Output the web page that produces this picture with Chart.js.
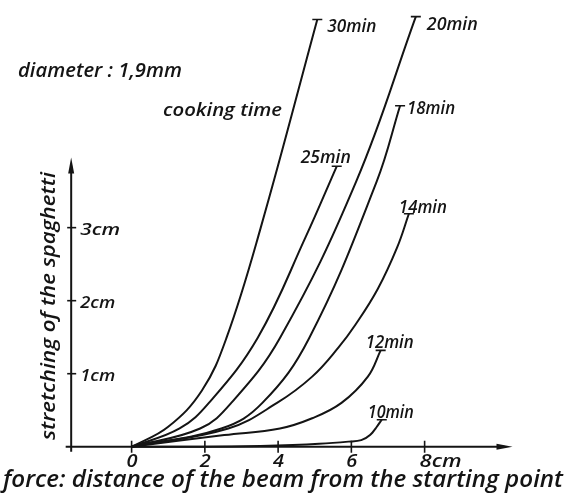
<!DOCTYPE html>
<html>
<head>
<meta charset="utf-8">
<script src="https://cdn.jsdelivr.net/npm/chart.js@4.4.0/dist/chart.umd.min.js"></script>
<style>
  html, body { margin: 0; padding: 0; background: #fff; }
  #wrap { width: 566px; height: 503px; }
</style>
</head>
<body>
<div id="wrap"><canvas id="chart"></canvas></div>
<script>
// stretching of the spaghetti vs. distance of the beam, one curve per cooking time
// values in cm

const cookingTimes = ['30min', '25min', '20min', '18min', '14min', '12min', '10min'];

const dist30 = [0, 0.99, 1.92, 2.59, 3.52, 5.07];
const stretch30 = [0, 0.27, 0.77, 1.49, 2.99, 5.85];

const dist25 = [0, 1.31, 2.11, 3.44, 4.75, 5.60];
const stretch25 = [0, 0.25, 0.60, 1.49, 2.87, 3.84];

const dist20 = [0, 1.87, 2.72, 4.05, 6.13, 7.76];
const stretch20 = [0, 0.25, 0.60, 1.49, 3.63, 5.89];

const dist18 = [0, 2.45, 3.57, 4.85, 6.69, 7.33];
const stretch18 = [0, 0.25, 0.60, 1.49, 3.63, 4.67];

const dist14 = [0, 2.64, 3.97, 4.93, 5.65, 6.11, 6.72, 7.25, 7.57];
const stretch14 = [0, 0.25, 0.60, 0.96, 1.36, 1.67, 2.16, 2.73, 3.19];

const dist12 = [0, 2.53, 4.05, 4.93, 5.73, 6.45, 6.80];
const stretch12 = [0, 0.16, 0.25, 0.39, 0.60, 0.96, 1.32];

const dist10 = [0, 1.92, 3.52, 5.12, 5.92, 6.27, 6.51, 6.69, 6.83];
const stretch10 = [0, 0, 0.01, 0.04, 0.07, 0.09, 0.16, 0.27, 0.37];

const xTicks = [0, 2, 4, 6, 8];
const xTickLabels = ['0', '2', '4', '6', '8cm'];
const yTicks = [1, 2, 3];
const yTickLabels = ['1cm', '2cm', '3cm'];

const diameterNote = 'diameter : 1,9mm';
const legendNote = 'cooking time';
const xTitle = 'force: distance of the beam from the starting point';
const yTitle = 'stretching of the spaghetti';

// --- layout / style (not data) ---
const INK = '#141414';
const FONT = '"Open Sans", "DejaVu Sans", sans-serif';
const axisLine = { yAxisAt: -1.65, yFrom: -0.07, yTo: 3.96, xFrom: -1.8, xTo: 10.4 };
// label offset from curve end: dx, dy (px), box width
const labelPos = {
    '30min': [10, 12, 49],
    '25min': [-36, -3, 50],
    '20min': [11, 13, 51],
    '18min': [7, 8, 48],
    '14min': [-10, -1, 48],
    '12min': [-15, -2, 48],
    '10min': [-14, -2, 46]
};

const series = [
    [dist30, stretch30], [dist25, stretch25], [dist20, stretch20], [dist18, stretch18],
    [dist14, stretch14], [dist12, stretch12], [dist10, stretch10]
];

const datasets = series.map(([xs, ys], i) => ({
    label: cookingTimes[i],
    data: xs.map((x, j) => ({ x: x, y: ys[j] })),
    borderColor: INK,
    borderWidth: 2,
    // the nearly flat 10min curve needs monotone so it doesn't dip below the axis
    cubicInterpolationMode: cookingTimes[i] === '10min' ? 'monotone' : 'default',
    tension: 0.4,
    fill: false,
    pointStyle: 'line',
    pointBorderColor: INK,
    pointBorderWidth: 1.6,
    pointRadius: ctx => ctx.dataIndex === xs.length - 1 ? 5 : 0,
    pointHoverRadius: 0
}));

// text squeezed/stretched to a given width
function fitText(ctx, text, x, y, w, size, rot) {
    ctx.save();
    ctx.font = 'italic 600 ' + size + 'px ' + FONT;
    const m = ctx.measureText(text).width;
    ctx.translate(x, y);
    if (rot) ctx.rotate(rot);
    ctx.scale(w / m, 1);
    ctx.textAlign = 'left';
    ctx.textBaseline = 'alphabetic';
    ctx.fillStyle = INK;
    ctx.fillText(text, 0, 0);
    ctx.restore();
}

const sketchAxes = {
    id: 'sketchAxes',
    beforeDatasetsDraw(chart) {
        const ctx = chart.ctx;
        const sx = chart.scales.x, sy = chart.scales.y;
        const ax = sx.getPixelForValue(axisLine.yAxisAt);
        const ay = sy.getPixelForValue(0);
        ctx.save();
        ctx.strokeStyle = INK;
        ctx.fillStyle = INK;
        ctx.lineWidth = 2;

        // y axis with arrow
        const yTop = sy.getPixelForValue(axisLine.yTo);
        ctx.beginPath();
        ctx.moveTo(ax, sy.getPixelForValue(axisLine.yFrom));
        ctx.lineTo(ax, yTop + 8);
        ctx.stroke();
        ctx.beginPath();
        ctx.moveTo(ax, yTop);
        ctx.lineTo(ax - 3, yTop + 16);
        ctx.lineTo(ax + 3, yTop + 16);
        ctx.closePath();
        ctx.fill();

        // x axis with arrow
        const xEnd = sx.getPixelForValue(axisLine.xTo);
        ctx.beginPath();
        ctx.moveTo(sx.getPixelForValue(axisLine.xFrom), ay);
        ctx.lineTo(xEnd - 8, ay);
        ctx.stroke();
        ctx.beginPath();
        ctx.moveTo(xEnd, ay);
        ctx.lineTo(xEnd - 16, ay - 3);
        ctx.lineTo(xEnd - 16, ay + 3);
        ctx.closePath();
        ctx.fill();

        // tick marks
        ctx.lineWidth = 1.6;
        yTicks.forEach(v => {
            const py = sy.getPixelForValue(v);
            ctx.beginPath();
            ctx.moveTo(ax - 4, py);
            ctx.lineTo(ax + 5, py);
            ctx.stroke();
        });
        xTicks.forEach(v => {
            const px = sx.getPixelForValue(v);
            ctx.beginPath();
            ctx.moveTo(px, ay - 6);
            ctx.lineTo(px, ay + 6);
            ctx.stroke();
        });
        ctx.restore();
    },
    afterDatasetsDraw(chart) {
        const ctx = chart.ctx;
        const sx = chart.scales.x, sy = chart.scales.y;
        const ax = sx.getPixelForValue(axisLine.yAxisAt);
        const ay = sy.getPixelForValue(0);

        // tick labels
        yTicks.forEach((v, i) => {
            const w = yTickLabels[i] === '3cm' ? 40 : 35;
            fitText(ctx, yTickLabels[i], ax + 9, sy.getPixelForValue(v) + 7, w, 17);
        });
        xTicks.forEach((v, i) => {
            const w = xTickLabels[i].length > 1 ? 42 : 11;
            fitText(ctx, xTickLabels[i], sx.getPixelForValue(v) - 5, ay + 20, w, 18);
        });

        // curve labels at curve ends
        series.forEach(([xs, ys], i) => {
            const name = cookingTimes[i];
            const [dx, dy, w] = labelPos[name];
            const n = xs.length - 1;
            const px = sx.getPixelForValue(xs[n]);
            const py = sy.getPixelForValue(ys[n]);
            fitText(ctx, name, px + dx, py + dy, w, 18);
        });

        // notes and axis titles
        fitText(ctx, diameterNote, 18, 77, 164, 20);
        fitText(ctx, legendNote, 163, 116, 119, 18);
        fitText(ctx, xTitle, 3, 487, 560, 24);
        fitText(ctx, yTitle, 55, 440, 268, 20, -Math.PI / 2);
    }
};

new Chart(document.getElementById('chart'), {
    type: 'line',
    data: { datasets: datasets },
    options: {
        responsive: true,
        maintainAspectRatio: false,
        animation: false,
        layout: { padding: 0 },
        scales: {
            x: { type: 'linear', min: -3.4133, max: 11.68, display: false },
            y: { type: 'linear', min: -0.68, max: 6.0267, display: false }
        },
        plugins: {
            legend: { display: false },
            tooltip: { enabled: false }
        }
    },
    plugins: [sketchAxes]
});
</script>
</body>
</html>
